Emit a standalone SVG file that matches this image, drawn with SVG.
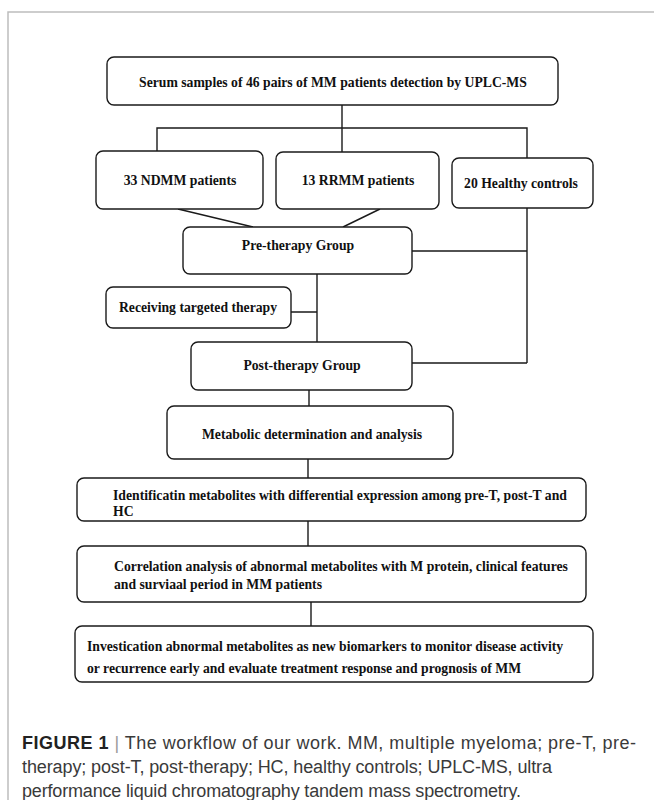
<svg xmlns="http://www.w3.org/2000/svg" width="654" height="800" viewBox="0 0 654 800">
<style>
.box{fill:#fff;stroke:#1a1a1a;stroke-width:1.4}
.t{font-family:"Liberation Serif","Times New Roman",serif;font-weight:bold;font-size:13.7px;fill:#111}
.c{text-anchor:middle}
.ln{stroke:#1a1a1a;stroke-width:1.4;fill:none}
.cap{font-family:"Liberation Sans",Arial,sans-serif;font-size:18px;fill:#3a3a3a}
</style>
<rect width="654" height="800" fill="#fff"/>
<path d="M8,800 V12 H654" fill="none" stroke="#bdbdbd" stroke-width="1.5"/>
<g id="connectors">
<path class="ln" d="M342,105 V152 M157,151 V128 H527 V158 M178,209 L253,227 M380,209 L343,227 M527,208 V363 M412,251 H527 M412,363 H527 M317,274 V342 M291,312 H317 M309,390 V407 M308,459 V478 M308,521 V546 M311,602 V626"/>
</g>
<g id="n-serum"><rect class="box" x="107" y="57" width="451" height="48" rx="7"/><text class="t c" x="333" y="87">Serum samples of 46 pairs of MM patients detection by UPLC-MS</text></g>
<g id="n-ndmm"><rect class="box" x="96" y="151" width="167" height="58" rx="7"/><text class="t c" x="180" y="185">33 NDMM patients</text></g>
<g id="n-rrmm"><rect class="box" x="276" y="152" width="163" height="57" rx="7"/><text class="t c" x="358" y="185">13 RRMM patients</text></g>
<g id="n-hc"><rect class="box" x="452" y="158" width="141" height="50" rx="7"/><text class="t c" x="521" y="188">20 Healthy controls</text></g>
<g id="n-pre"><rect class="box" x="183" y="227" width="229" height="47" rx="7"/><text class="t c" x="298" y="250">Pre-therapy Group</text></g>
<g id="n-recv"><rect class="box" x="106" y="287" width="185" height="41" rx="7"/><text class="t c" x="198" y="312">Receiving targeted therapy</text></g>
<g id="n-post"><rect class="box" x="191" y="342" width="221" height="48" rx="7"/><text class="t c" x="302" y="370">Post-therapy Group</text></g>
<g id="n-metab"><rect class="box" x="167" y="406" width="286" height="53" rx="7"/><text class="t c" x="312" y="439">Metabolic determination and analysis</text></g>
<g id="n-ident"><rect class="box" x="77" y="478" width="509" height="43" rx="7"/><text class="t" x="113" y="500">Identificatin metabolites with differential expression among pre-T, post-T and</text><text class="t" x="113" y="516">HC</text></g>
<g id="n-corr"><rect class="box" x="77" y="546" width="509" height="56" rx="7"/><text class="t" x="114" y="571">Correlation analysis of abnormal metabolites with M protein, clinical features</text><text class="t" x="114" y="589">and surviaal period in MM patients</text></g>
<g id="n-invest"><rect class="box" x="75" y="626" width="518" height="56" rx="7"/><text class="t" x="87" y="651">Investication abnormal metabolites as new biomarkers to monitor disease activity</text><text class="t" x="87" y="673">or recurrence early and evaluate treatment response and prognosis of MM</text></g>
<g id="caption">
<text class="cap" x="22" y="749" textLength="614"><tspan font-weight="bold" fill="#222">FIGURE 1</tspan> <tspan fill="#999">|</tspan> The workflow of our work. MM, multiple myeloma; pre-T, pre-</text>
<text class="cap" x="22" y="773" textLength="530">therapy; post-T, post-therapy; HC, healthy controls; UPLC-MS, ultra</text>
<text class="cap" x="22" y="797" textLength="499">performance liquid chromatography tandem mass spectrometry.</text>
</g>
</svg>
